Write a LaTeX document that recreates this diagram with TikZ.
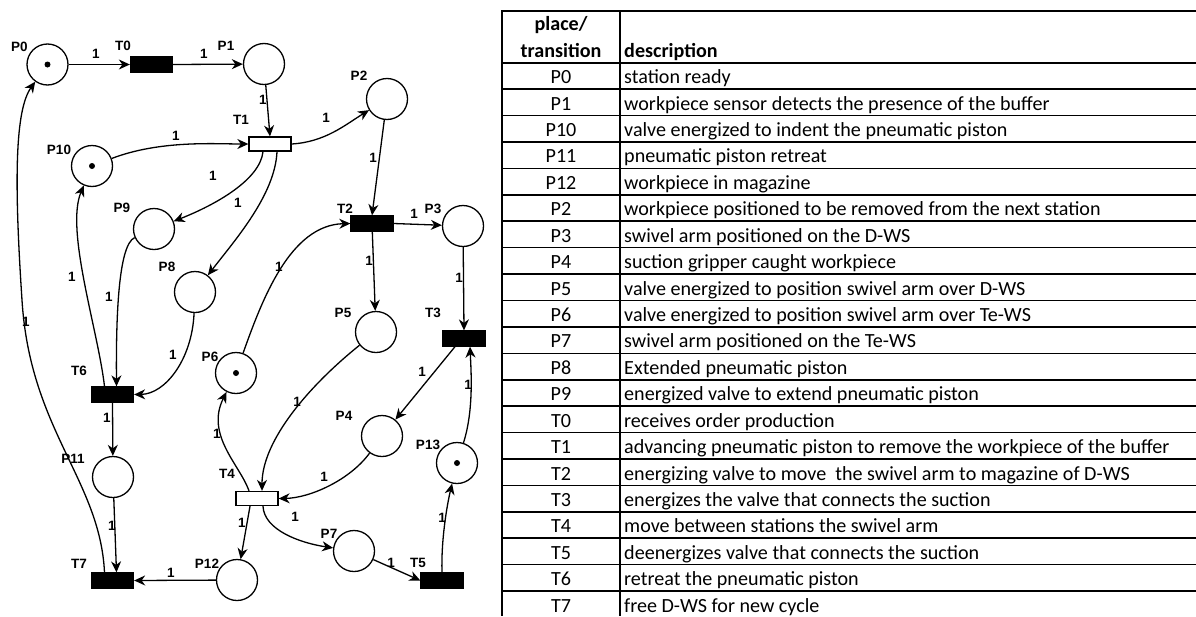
\documentclass[tikz,border=0pt]{standalone}
\usepackage{fontspec}
\setmainfont{Carlito}
\newfontfamily\netfont{Liberation Sans}
\usetikzlibrary{arrows.meta}

\begin{document}
\begin{tikzpicture}[x=1pt,y=-1pt,
  place/.style={circle,draw,line width=1.3pt,minimum size=41pt,inner sep=0pt},
  trans/.style={rectangle,draw,line width=1.3pt,fill=black,minimum width=42pt,minimum height=15pt,inner sep=0pt},
  opentrans/.style={trans,fill=white,minimum height=14pt},
  token/.style={circle,fill=black,minimum size=6pt,inner sep=0pt},
  lbl/.style={font=\netfont\bfseries\fontsize{13.5}{13.5}\selectfont,inner sep=0pt},
  arc/.style={line width=1.3pt,-{Stealth[length=11pt,width=10pt,inset=3.5pt]}},
  rule/.style={line width=1.6pt},
  cell/.style={font=\fontsize{20.1}{21}\selectfont,inner sep=0pt},
  headcell/.style={cell,font=\fontsize{20.1}{21}\selectfont\bfseries}
]
\useasboundingbox (0,0) rectangle (1196,616);

% ---------------- places ----------------
\node[place] (P0)  at (47.5,64.5) {};
\node[place] (P1)  at (264,64) {};
\node[place] (P2)  at (387,99) {};
\node[place] (P10) at (92,166) {};
\node[place] (P9)  at (154,229) {};
\node[place] (P8)  at (195,292) {};
\node[place] (P3)  at (463,226) {};
\node[place] (P5)  at (376,332) {};
\node[place] (P11) at (113,477) {};
\node[place] (P12) at (237,580) {};
\node[place] (P6)  at (236,373) {};
\node[place] (P4)  at (382,436) {};
\node[place] (P13) at (457,463) {};
\node[place] (P7)  at (354,551) {};

% tokens
\node[token] (k0)  at (P0) {};
\node[token] (k10) at (P10) {};
\node[token] (k6)  at (P6) {};
\node[token] (k13) at (P13) {};

% ---------------- transitions ----------------
\node[trans]     (T0) at (151.5,64.5) {};
\node[opentrans] (T1) at (270,144) {};
\node[trans]     (T2) at (372,223.5) {};
\node[trans]     (T3) at (464,338.5) {};
\node[opentrans] (T4) at (257,498.5) {};
\node[trans]     (T5) at (442,580.5) {};
\node[trans]     (T6) at (112.5,394.5) {};
\node[trans]     (T7) at (112.5,580.5) {};

% ---------------- names ----------------
\node[lbl] (nP0)  at (19.5,46.5) {P0};
\node[lbl] (nT0)  at (123,46) {T0};
\node[lbl] (nP1)  at (226,46) {P1};
\node[lbl] (nT1)  at (241,120) {T1};
\node[lbl] (nP10) at (59,150) {P10};
\node[lbl] (nP2)  at (359,76) {P2};
\node[lbl] (nP9)  at (122,208) {P9};
\node[lbl] (nP8)  at (167,267) {P8};
\node[lbl] (nT2)  at (345,209) {T2};
\node[lbl] (nP3)  at (433,209) {P3};
\node[lbl] (nP5)  at (343,313) {P5};
\node[lbl] (nT3)  at (433,313) {T3};
\node[lbl] (nT6)  at (79,371) {T6};
\node[lbl] (nP11) at (73,459) {P11};
\node[lbl] (nT7)  at (79,564) {T7};
\node[lbl] (nP12) at (207,564) {P12};
\node[lbl] (nT4)  at (227,474) {T4};
\node[lbl] (nP6)  at (210,357) {P6};
\node[lbl] (nP4)  at (344,416) {P4};
\node[lbl] (nP13) at (428,445) {P13};
\node[lbl] (nP7)  at (329,534) {P7};
\node[lbl] (nT5)  at (418,563) {T5};

% ---------------- arcs ----------------
\draw[arc] (P0) -- (T0.west);
\draw[arc] (T0.east) -- (P1);
\draw[arc] (P1) -- (T1.north);
\draw[arc] (T1.east) .. controls (325,142) and (345,125) .. (P2);
\draw[arc] (P10) .. controls (160,140) and (215,144) .. (T1.west);
\draw[arc] ([xshift=-7pt]T1.south) .. controls (260,180) and (215,205) .. (P9);
\draw[arc] ([xshift=7pt]T1.south) .. controls (275,195) and (235,240) .. (P8);
\draw[arc] (P2) -- (T2.north);
\draw[arc] (T2.east) -- (P3);
\draw[arc] (T2) -- (P5);
\draw[arc] (P6) .. controls (262,300) and (290,225) .. (T2.west);
\draw[arc] (P3) -- (T3.north);
\draw[arc] ([xshift=-9pt]T3.south) -- (P4);
\draw[arc] (P13) .. controls (474,410) and (471,370) .. ([xshift=6pt]T3.south);
\draw[arc] (P5) .. controls (310,385) and (262,440) .. ([xshift=5pt]T4.north);
\draw[arc] (P4) .. controls (350,480) and (310,498) .. (T4.east);
\draw[arc] ([xshift=-8pt]T4.north) .. controls (240,465) and (205,435) .. (P6);
\draw[arc] ([xshift=-7pt]T4.south) -- (P12);
\draw[arc] ([xshift=6pt]T4.south) .. controls (264,530) and (300,543) .. (P7);
\draw[arc] (P7) -- (T5.west);
\draw[arc] (T5.north) .. controls (441,540) and (447,505) .. (P13);
\draw[arc] (P12) -- (T7.east);
\draw[arc] (P11) -- ([xshift=4pt]T7.north);
\draw[arc] (T6.south) -- (P11);
\draw[arc] (P9) .. controls (118,245) and (116,320) .. ([xshift=4pt]T6.north);
\draw[arc] (P8) .. controls (192,360) and (165,394) .. (T6.east);
\draw[arc] ([xshift=-8pt]T6.north) .. controls (98,330) and (65,230) .. (P10);
\draw[arc] ([xshift=-8pt]T7.north) .. controls (100,480) and (30,430) .. (22,300)
           .. controls (14,180) and (15,110) .. (P0);

% ---------------- weights ----------------
\node[lbl] (w1)  at (96,54) {1};
\node[lbl] (w2)  at (204,54) {1};
\node[lbl] (w3)  at (263,100) {1};
\node[lbl] (w4)  at (326,118) {1};
\node[lbl] (w5)  at (176,136) {1};
\node[lbl] (w6)  at (213,176) {1};
\node[lbl] (w7)  at (238,203) {1};
\node[lbl] (w8)  at (373,158) {1};
\node[lbl] (w9)  at (414,214) {1};
\node[lbl] (w10) at (369,261) {1};
\node[lbl] (w11) at (279,267) {1};
\node[lbl] (w12) at (459,278) {1};
\node[lbl] (w13) at (422,372) {1};
\node[lbl] (w14) at (468,385) {1};
\node[lbl] (w15) at (297,402) {1};
\node[lbl] (w16) at (324,477) {1};
\node[lbl] (w17) at (217,434) {1};
\node[lbl] (w18) at (242,523) {1};
\node[lbl] (w19) at (295,517) {1};
\node[lbl] (w20) at (391,563) {1};
\node[lbl] (w21) at (442,518) {1};
\node[lbl] (w22) at (171,573) {1};
\node[lbl] (w23) at (112,526) {1};
\node[lbl] (w24) at (107,418) {1};
\node[lbl] (w25) at (109,297) {1};
\node[lbl] (w26) at (173,355) {1};
\node[lbl] (w27) at (72,277) {1};
\node[lbl] (w28) at (26,322) {1};

% ---------------- description table ----------------
\draw[rule] (502,11) -- (1196,11);
\draw[rule] (502,62.7) -- (1196,62.7);
\draw[rule] (502,10.2) -- (502,616);
\draw[rule] (620,10.2) -- (620,616);
\node[headcell,anchor=base] (hA) at (561,30) {place/};
\node[headcell,anchor=base] (hB) at (561,57) {transition};
\node[headcell,anchor=base west] (hC) at (624,57) {description};

\foreach \id/\desc [count=\i from 0] in {
  P0/station ready,
  P1/workpiece sensor detects the presence of the buffer,
  P10/valve energized to indent the pneumatic piston,
  P11/pneumatic piston retreat,
  P12/workpiece in magazine,
  P2/workpiece positioned to be removed from the next station,
  P3/swivel arm positioned on the D-WS,
  P4/suction gripper caught workpiece,
  P5/valve energized to position swivel arm over D-WS,
  P6/valve energized to position swivel arm over Te-WS,
  P7/swivel arm positioned on the Te-WS,
  P8/Extended pneumatic piston,
  P9/energized valve to extend pneumatic piston,
  T0/receives order production,
  T1/advancing pneumatic piston to remove the workpiece of the buffer,
  T2/energizing valve to move\ \ the swivel arm to magazine of D-WS,
  T3/energizes the valve that connects the suction,
  T4/move between stations the swivel arm,
  T5/deenergizes valve that connects the suction,
  T6/retreat the pneumatic piston,
  T7/free D-WS for new cycle}{
  \pgfmathsetmacro{\top}{62.7+\i*26.42}
  \node[cell,anchor=base] (id\i) at (561,\top+21) {\id};
  \node[cell,anchor=base west] (ds\i) at (624,\top+21) {\desc};
  \draw[rule] (502,\top+26.42) -- (1196,\top+26.42);
}
\end{tikzpicture}
\end{document}
